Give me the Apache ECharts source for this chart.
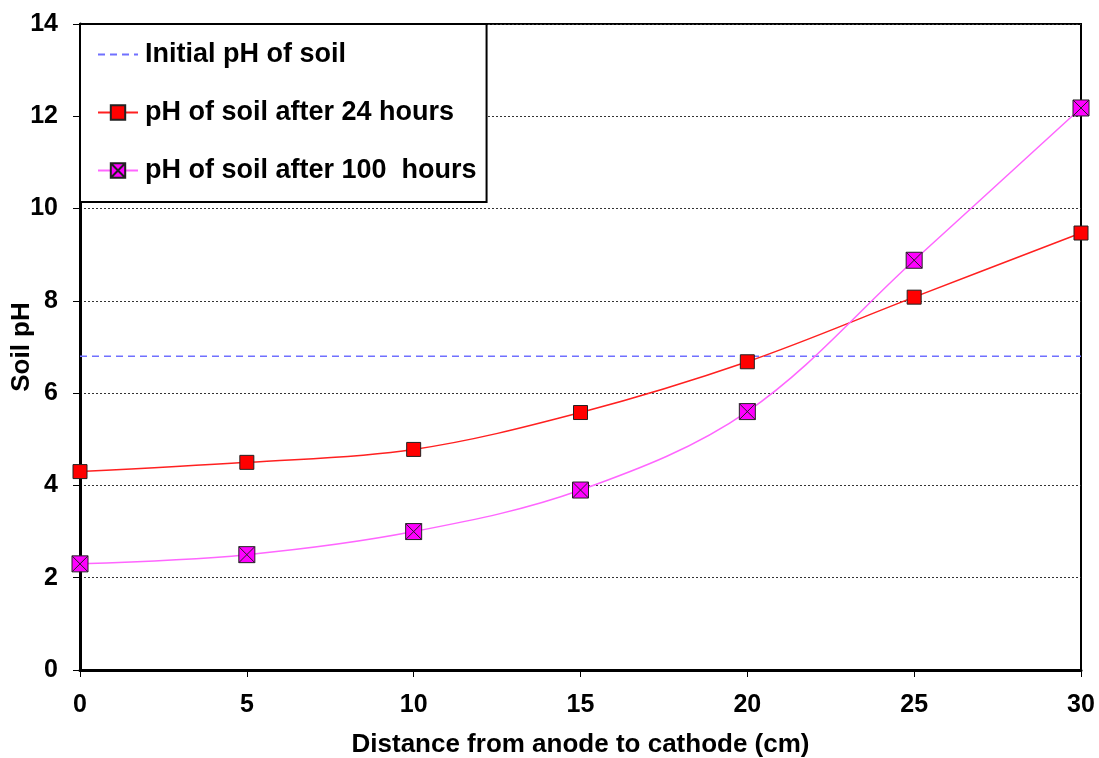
<!DOCTYPE html>
<html><head><meta charset="utf-8">
<script src="https://cdn.jsdelivr.net/npm/echarts@6/dist/echarts.min.js"></script>
<style>html,body{margin:0;padding:0;background:#fff}#c{width:1099px;height:758px}</style>
</head><body><div id="c"></div>
<script>
const distances = [0, 5, 10, 15, 20, 25, 30];
const ph24 = [4.3, 4.5, 4.78, 5.58, 6.68, 8.08, 9.47];
const ph100 = [2.3, 2.5, 3.0, 3.9, 5.6, 8.88, 12.18];
const initialX = [0, 30];
const initialPH = 6.8;
const yTicks = { min: 0, max: 14, interval: 2 };
const xTicks = { min: 0, max: 30, interval: 5 };
const names = ['Initial pH of soil', 'pH of soil after 24 hours', 'pH of soil after 100  hours'];

const F = 'Liberation Sans, Arial, sans-serif';
const xSym = 'path://M0,0L10,0L10,10L0,10Z M0,0L10,10 M10,0L0,10';
const chart = echarts.init(document.getElementById('c'));
chart.setOption({
  animation: false,
  grid: { left: 80, right: 18, top: 24, bottom: 88, outerBoundsMode: 'none', containLabel: false,
          show: true, borderColor: '#000', borderWidth: 2, backgroundColor: 'transparent' },
  legend: {
    orient: 'vertical', left: 80, top: 24,
    backgroundColor: '#fff', borderColor: '#000', borderWidth: 2,
    padding: [17, 10, 18, 17], itemGap: 31, itemWidth: 40, itemHeight: 18,
    textStyle: { fontFamily: F, fontWeight: 'bold', fontSize: 27, color: '#000', padding: [0, 0, 0, 2] },
    data: [
      { name: names[0], itemStyle: { opacity: 0 } },
      { name: names[1] },
      { name: names[2] }
    ]
  },
  xAxis: {
    type: 'value', min: xTicks.min, max: xTicks.max, interval: xTicks.interval,
    name: 'Distance from anode to cathode (cm)', nameLocation: 'middle', nameGap: 62,
    nameMoveOverlap: false,
    nameTextStyle: { fontFamily: F, fontWeight: 'bold', fontSize: 26, color: '#000' },
    axisLine: { lineStyle: { color: '#000', width: 3 } },
    axisTick: { show: true, length: 7, lineStyle: { color: '#000', width: 1 } },
    axisLabel: { fontFamily: F, fontWeight: 'bold', fontSize: 25, color: '#000', margin: 23 },
    splitLine: { show: false }
  },
  yAxis: {
    type: 'value', min: yTicks.min, max: yTicks.max, interval: yTicks.interval,
    name: 'Soil pH', nameLocation: 'middle', nameGap: 45, nameRotate: 90,
    nameMoveOverlap: false,
    nameTextStyle: { fontFamily: F, fontWeight: 'bold', fontSize: 26, color: '#000' },
    axisLine: { lineStyle: { color: '#000', width: 3 } },
    axisTick: { show: true, length: 7, lineStyle: { color: '#000', width: 1 } },
    axisLabel: { fontFamily: F, fontWeight: 'bold', fontSize: 25, color: '#000', margin: 22 },
    splitLine: { show: true, lineStyle: { color: '#333', type: [2, 2], width: 1 } }
  },
  series: [
    {
      name: names[0], type: 'line', symbol: 'none',
      data: initialX.map(x => [x, initialPH]),
      lineStyle: { color: '#7070ff', width: 1.5, type: [7, 5] }, itemStyle: { color: '#7070ff' }, z: 2
    },
    {
      name: names[1], type: 'line', smooth: 0.35,
      data: distances.map((d, i) => [d, ph24[i]]),
      symbol: 'rect', symbolSize: 14,
      lineStyle: { color: '#ff2020', width: 1.5 },
      itemStyle: { color: '#ff0000', borderColor: '#222', borderWidth: 1 }, z: 3
    },
    {
      name: names[2], type: 'line', smooth: 0.35,
      data: distances.map((d, i) => [d, ph100[i]]),
      symbol: xSym, symbolSize: 16,
      lineStyle: { color: '#ff66ff', width: 1.5 },
      itemStyle: { color: '#ff00ff', borderColor: '#222', borderWidth: 1 }, z: 4
    }
  ]
});
</script></body></html>
